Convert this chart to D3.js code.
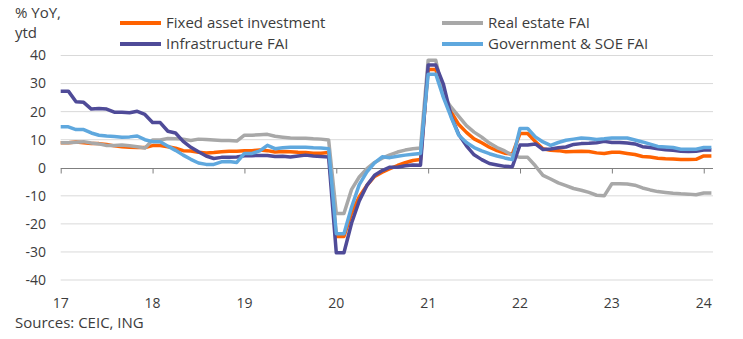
<!DOCTYPE html>
<html>
<head>
<meta charset="utf-8">
<script src="https://cdn.jsdelivr.net/npm/d3@7"></script>
<style>
  body { margin: 0; background: #fff; }
  #chart text { font-family: "Open Sans", "Noto Sans", sans-serif; fill: #3c3c3c; }
</style>
</head>
<body>
<div id="chart"></div>
<script>
// monthly ytd growth, Jan 2017 .. Feb 2024 (Jan repeats the Jan-Feb figure)
var yearLabels = ["17", "18", "19", "20", "21", "22", "23", "24"];
var yTicks = [40, 30, 20, 10, 0, -10, -20, -30, -40];

var fixedAsset = [
  8.9, 8.9, 9.2, 8.9, 8.6, 8.6, 8.3, 7.8, 7.5, 7.3, 7.2, 7.2,
  7.9, 7.9, 7.5, 7.0, 6.1, 6.0, 5.5, 5.3, 5.4, 5.7, 5.9, 5.9,
  6.1, 6.1, 6.3, 6.1, 5.6, 5.8, 5.7, 5.5, 5.4, 5.2, 5.2, 5.4,
  -24.5, -24.5, -16.1, -10.3, -6.3, -3.1, -1.6, -0.3, 0.8, 1.8, 2.6, 2.9,
  35.0, 35.0, 25.6, 19.9, 15.4, 12.6, 10.3, 8.9, 7.3, 6.1, 5.2, 4.9,
  12.2, 12.2, 9.3, 6.8, 6.2, 6.1, 5.7, 5.8, 5.9, 5.8, 5.3, 5.1,
  5.5, 5.5, 5.1, 4.7, 4.0, 3.8, 3.4, 3.2, 3.1, 2.9, 2.9, 3.0,
  4.2, 4.2
];
var realEstate = [
  8.9, 8.9, 9.1, 9.3, 8.8, 8.5, 7.9, 7.9, 8.1, 7.8, 7.5, 7.0,
  9.9, 9.9, 10.4, 10.3, 10.2, 9.7, 10.2, 10.1, 9.9, 9.7, 9.7, 9.5,
  11.6, 11.6, 11.8, 11.9, 11.2, 10.9, 10.6, 10.5, 10.5, 10.3, 10.2, 9.9,
  -16.3, -16.3, -7.7, -3.3, -0.3, 1.9, 3.4, 4.6, 5.6, 6.3, 6.8, 7.0,
  38.3, 38.3, 25.6, 21.6, 18.3, 15.0, 12.7, 10.9, 8.8, 7.2, 6.0, 4.4,
  3.7, 3.7, 0.7, -2.7, -4.0, -5.4, -6.4, -7.4, -8.0, -8.8, -9.8, -10.0,
  -5.7, -5.7, -5.8, -6.2, -7.2, -7.9, -8.5, -8.8, -9.1, -9.3, -9.4, -9.6,
  -9.0, -9.0
];
var infra = [
  27.3, 27.3, 23.5, 23.3, 20.9, 21.1, 20.9, 19.8, 19.8, 19.6, 20.1, 19.0,
  16.1, 16.1, 13.0, 12.4, 9.4, 7.3, 5.7, 4.2, 3.3, 3.7, 3.7, 3.8,
  4.3, 4.3, 4.4, 4.4, 4.0, 4.1, 3.8, 4.2, 4.5, 4.2, 4.0, 3.8,
  -30.3, -30.3, -19.7, -11.8, -6.3, -2.7, -1.0, 0.2, 0.2, 0.7, 1.0, 0.9,
  36.6, 36.6, 29.7, 18.4, 11.8, 7.8, 4.6, 2.9, 1.5, 1.0, 0.5, 0.4,
  8.1, 8.1, 8.5, 6.5, 6.7, 7.1, 7.4, 8.3, 8.6, 8.7, 8.9, 9.4,
  9.0, 9.0, 8.8, 8.5, 7.5, 7.2, 6.8, 6.4, 6.2, 5.9, 5.8, 5.9,
  6.3, 6.3
];
var govSoe = [
  14.6, 14.6, 13.6, 13.6, 12.4, 11.6, 11.3, 11.1, 10.9, 11.0, 11.3, 10.0,
  9.3, 9.3, 7.7, 6.2, 4.5, 3.0, 1.7, 1.2, 1.2, 2.1, 2.2, 1.9,
  5.1, 5.1, 6.0, 8.0, 6.8, 7.1, 7.3, 7.3, 7.3, 7.1, 7.0, 6.8,
  -23.5, -23.5, -14.0, -6.0, -1.5, 1.7, 3.9, 3.6, 4.1, 4.5, 4.8, 5.1,
  33.3, 33.3, 25.0, 18.0, 11.6, 9.0, 7.2, 6.0, 5.0, 4.2, 3.5, 2.9,
  14.0, 14.0, 11.0, 9.2, 8.0, 9.0, 9.8, 10.2, 10.6, 10.4, 10.1, 10.3,
  10.6, 10.6, 10.6, 9.9, 9.2, 8.4, 7.6, 7.4, 7.2, 6.6, 6.6, 6.6,
  7.2, 7.2
];

var seriesNames = ["Fixed asset investment", "Real estate FAI", "Infrastructure FAI", "Government & SOE FAI"];
var seriesColors = ["#ff6200", "#a8a8a8", "#4f4b98", "#5fa8de"];

drawChart(743, 339);

function drawChart(width, height) {
  var svg = d3.select("#chart").append("svg")
    .attr("width", width)
    .attr("height", height);

  var series = [fixedAsset, realEstate, infra, govSoe];

  var x = d3.scaleLinear().domain([0, fixedAsset.length - 1]).range([60.7, 711.4]);
  var y = d3.scaleLinear().domain([-40, 40]).range([280, 55.5]);

  // gridlines
  svg.append("g")
    .selectAll("line")
    .data(yTicks.filter(function(d) { return d != 0; }))
    .enter().append("line")
    .attr("x1", x(0)).attr("x2", 713)
    .attr("y1", function(d) { return y(d); })
    .attr("y2", function(d) { return y(d); })
    .style("stroke", "#d9d9d9")
    .style("stroke-width", 1);

  // y labels
  svg.append("g")
    .selectAll("text")
    .data(yTicks)
    .enter().append("text")
    .attr("x", 46)
    .attr("y", function(d) { return y(d); })
    .attr("dy", "0.35em")
    .attr("text-anchor", "end")
    .style("font-size", "14px")
    .text(function(d) { return d; });

  // zero axis with year ticks
  var xAxis = d3.axisBottom(x)
    .tickValues(yearLabels.map(function(d, i) { return i * 12; }))
    .tickFormat(function(d) { return yearLabels[d / 12]; })
    .tickSize(5)
    .tickSizeOuter(0);
  var ax = svg.append("g")
    .attr("transform", "translate(0," + (Math.round(y(0)) + 0.5) + ")")
    .call(xAxis);
  ax.select(".domain").attr("d", "M" + x(0) + ",0H713").style("stroke", "#7f7f7f");
  ax.selectAll(".tick line").style("stroke", "#7f7f7f");
  ax.selectAll(".tick text").remove();

  svg.append("g")
    .selectAll("text")
    .data(yearLabels)
    .enter().append("text")
    .attr("x", function(d, i) { return x(i * 12); })
    .attr("y", 303)
    .attr("dy", "0.35em")
    .attr("text-anchor", "middle")
    .style("font-size", "14px")
    .text(function(d) { return d; });

  var line = d3.line()
    .x(function(d, i) { return x(i); })
    .y(function(d) { return y(d); });

  svg.append("g")
    .selectAll("path")
    .data(series)
    .enter().append("path")
    .attr("d", line)
    .style("fill", "none")
    .style("stroke", function(d, i) { return seriesColors[i]; })
    .style("stroke-width", 3.5)
    .style("stroke-linejoin", "round");

  // legend, two columns
  var legend = svg.append("g").selectAll("g")
    .data(seriesNames)
    .enter().append("g")
    .attr("transform", function(d, i) {
      return "translate(" + (i % 2 == 0 ? 120 : 442) + "," + (i < 2 ? 23 : 44) + ")";
    });
  legend.append("line")
    .attr("x1", 0).attr("x2", 41)
    .style("stroke", function(d, i) { return seriesColors[i]; })
    .style("stroke-width", 4);
  legend.append("text")
    .attr("x", 46)
    .attr("dy", "0.35em")
    .style("font-size", "15px")
    .text(function(d) { return d; });

  svg.append("text").attr("x", 15).attr("y", 13).attr("dy", "0.35em")
    .style("font-size", "15px").text("% YoY,");
  svg.append("text").attr("x", 15).attr("y", 33).attr("dy", "0.35em")
    .style("font-size", "15px").text("ytd");
  svg.append("text").attr("x", 15).attr("y", 323).attr("dy", "0.35em")
    .style("font-size", "15px").text("Sources: CEIC, ING");
}
</script>
</body>
</html>
